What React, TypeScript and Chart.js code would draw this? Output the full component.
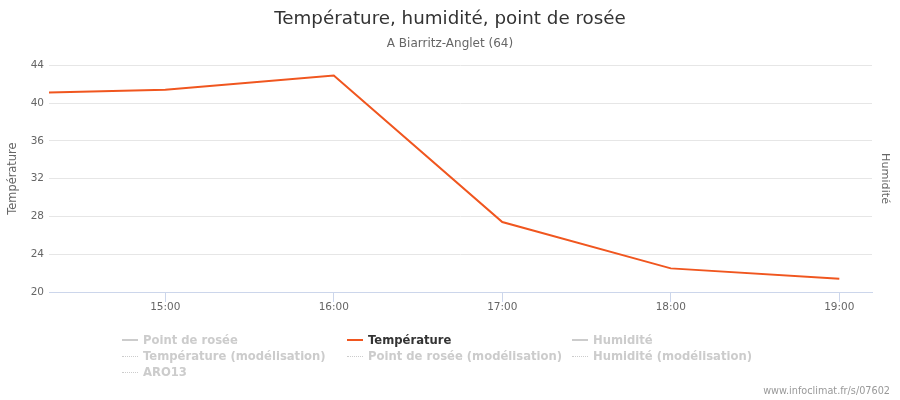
import React, { useEffect, useRef } from "react";
import { Chart, registerables } from "chart.js";

Chart.register(...registerables);

const titleText = "Température, humidité, point de rosée";
const subtitleText = "A Biarritz-Anglet (64)";
const creditsText = "www.infoclimat.fr/s/07602";

const hours = [14.31, 15, 16, 17, 18, 19];
const temperature = [41.1, 41.4, 42.9, 27.4, 22.5, 21.4];
const xTickHours = [15, 16, 17, 18, 19];
const yTicks = [20, 24, 28, 32, 36, 40, 44];

const legendLabels = [
  "Point de rosée",
  "Température",
  "Humidité",
  "Température (modélisation)",
  "Point de rosée (modélisation)",
  "Humidité (modélisation)",
  "ARO13",
];
const legendVisible = [false, true, false, false, false, false, false];
const legendDotted = [false, false, false, true, true, true, true];

const TEMP_COLOR = "#F0561F";
const FONT = "'DejaVu Sans', Verdana, sans-serif";

export default function App() {
  const canvasRef = useRef<HTMLCanvasElement | null>(null);

  useEffect(() => {
    const canvas = canvasRef.current;
    if (!canvas) return;
    const chart = new Chart(canvas, {
      type: "line",
      data: {
        datasets: [
          {
            label: "Température",
            data: hours.map((h, i) => ({ x: h, y: temperature[i] })),
            borderColor: TEMP_COLOR,
            backgroundColor: TEMP_COLOR,
            borderWidth: 2,
            pointRadius: 0,
            tension: 0,
            yAxisID: "y",
          },
        ],
      },
      options: {
        responsive: false,
        animation: false,
        layout: { padding: { left: 0, right: 0, top: 0, bottom: 80 } },
        plugins: {
          legend: { display: false },
          tooltip: { enabled: false },
          title: {
            display: true,
            text: titleText,
            color: "#333333",
            font: { family: FONT, size: 18.3, weight: "normal", lineHeight: 1 },
            padding: { top: 10.6, bottom: 8 },
          },
          subtitle: {
            display: true,
            text: subtitleText,
            color: "#666666",
            font: { family: FONT, size: 12, weight: "normal", lineHeight: 1 },
            padding: { top: 0.5, bottom: 15.8 },
          },
        },
        scales: {
          x: {
            type: "linear",
            min: hours[0],
            max: 19.194,
            afterBuildTicks: (scale: any) => {
              scale.ticks = xTickHours.map((v) => ({ value: v }));
            },
            afterFit: (scale: any) => {
              scale.height = 28;
            },
            ticks: {
              autoSkip: false,
              maxRotation: 0,
              color: "#666666",
              padding: 0,
              font: { family: FONT, size: 10.5, lineHeight: 1 },
              callback: (v: any) => `${String(v).padStart(2, "0")}:00`,
            },
            grid: {
              display: true,
              drawOnChartArea: false,
              drawTicks: true,
              tickLength: 10,
              color: "#ccd6eb",
            },
            border: { display: true, color: "#ccd6eb", width: 1 },
          },
          y: {
            type: "linear",
            position: "left",
            min: yTicks[0],
            max: yTicks[yTicks.length - 1],
            afterBuildTicks: (scale: any) => {
              scale.ticks = yTicks.map((v) => ({ value: v }));
            },
            afterFit: (scale: any) => {
              scale.width = 49;
            },
            ticks: {
              color: "#666666",
              padding: 5,
              font: { family: FONT, size: 10.5, lineHeight: 1 },
            },
            grid: {
              drawTicks: false,
              color: (ctx: any) => (ctx.tick && ctx.tick.value === 20 ? "#ccd6eb" : "#e6e6e6"),
              lineWidth: 1,
            },
            border: { display: false },
            title: {
              display: true,
              text: "Température",
              color: "#666666",
              font: { family: FONT, size: 11.4, lineHeight: 1 },
              padding: { top: 7.5, bottom: 0 },
            },
          },
          y2: {
            type: "linear",
            position: "right",
            min: 0,
            max: 100,
            afterFit: (scale: any) => {
              scale.width = 28;
            },
            ticks: { display: false },
            grid: { display: false, drawTicks: false },
            border: { display: false },
            title: {
              display: true,
              text: "Humidité",
              color: "#666666",
              font: { family: FONT, size: 11.2, lineHeight: 1 },
              padding: { top: 9, bottom: 0 },
            },
          },
        },
      },
    });
    return () => chart.destroy();
  }, []);

  const colLeft = [122, 347, 572];
  const rowCenter = [340, 356, 372];

  return (
    <div style={{ position: "absolute", left: 0, top: 0, width: 900, height: 400, background: "#fff" }}>
      <canvas ref={canvasRef} width={900} height={400} style={{ width: 900, height: 400, display: "block" }} />
      {legendLabels.map((label, i) => {
        const col = i % 3;
        const row = Math.floor(i / 3);
        const visible = legendVisible[i];
        const dotted = legendDotted[i];
        const symColor = visible ? TEMP_COLOR : "#cccccc";
        return (
          <div
            key={label}
            style={{
              position: "absolute",
              left: colLeft[col],
              top: rowCenter[row] - 8,
              height: 16,
              lineHeight: "16px",
              whiteSpace: "nowrap",
              fontFamily: FONT,
              fontWeight: "bold",
              fontSize: 11.6,
              color: visible ? "#333333" : "#cccccc",
            }}
          >
            <span
              style={{
                position: "absolute",
                left: 0,
                top: dotted ? 8 : 7,
                width: 16,
                height: 0,
                borderTop: dotted ? `1px dotted ${symColor}` : `2px solid ${symColor}`,
              }}
            />
            <span style={{ position: "absolute", left: 21, top: 0 }}>{label}</span>
          </div>
        );
      })}
      <div
        style={{
          position: "absolute",
          right: 10,
          top: 385,
          lineHeight: "12px",
          fontFamily: FONT,
          fontSize: 9.7,
          color: "#999999",
          whiteSpace: "nowrap",
        }}
      >
        {creditsText}
      </div>
    </div>
  );
}
